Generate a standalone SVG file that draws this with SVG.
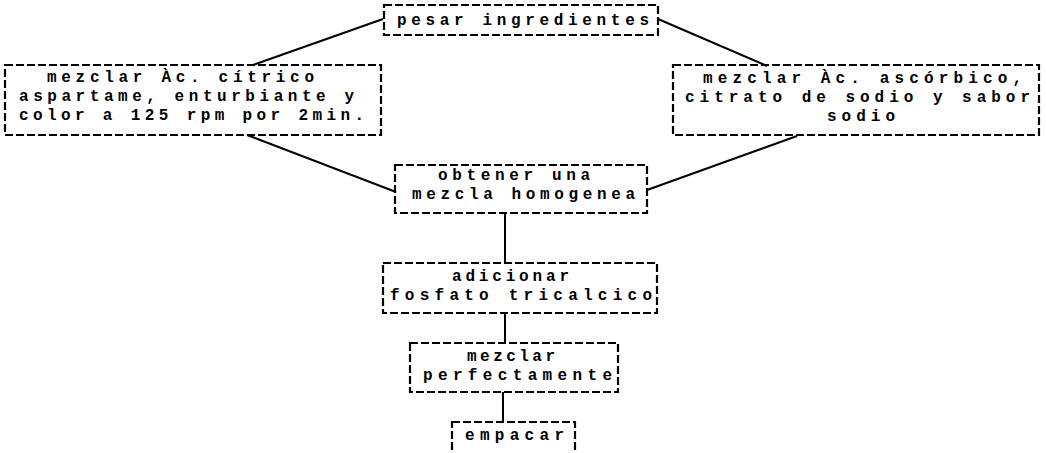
<svg xmlns="http://www.w3.org/2000/svg" width="1046" height="453" viewBox="0 0 1046 453">
<style>
.box{fill:none;stroke:#000;stroke-width:2.2;stroke-dasharray:8 3}
.t{font-family:"Liberation Mono","DejaVu Sans Mono",monospace;font-weight:bold;font-size:16px;fill:#000}
.c{stroke:#000;stroke-width:2;fill:none}
</style>
<rect width="1046" height="453" fill="#fff"/>
<g id="connectors">
<line class="c" x1="383" y1="19" x2="253" y2="65"/>
<line class="c" x1="658" y1="19" x2="767" y2="66"/>
<line class="c" x1="247" y1="135" x2="396" y2="192"/>
<line class="c" x1="797" y1="136" x2="647" y2="190"/>
<line class="c" x1="505" y1="213" x2="505" y2="263"/>
<line class="c" x1="505" y1="313" x2="505" y2="343"/>
<line class="c" x1="503" y1="392" x2="503" y2="422"/>
</g>
<g id="n1">
<rect class="box" x="384" y="5" width="274" height="30"/>
<text class="t" x="397" y="25" textLength="252" lengthAdjust="spacing">pesar ingredientes</text>
</g>
<g id="n2">
<rect class="box" x="5" y="65" width="376" height="70"/>
<text class="t" x="47" y="82" textLength="267" lengthAdjust="spacing">mezclar Àc. cítrico</text>
<text class="t" x="19" y="101" textLength="335" lengthAdjust="spacing">aspartame, enturbiante y</text>
<text class="t" x="19" y="120" textLength="345" lengthAdjust="spacing">color a 125 rpm por 2min.</text>
</g>
<g id="n3">
<rect class="box" x="673" y="65" width="366" height="70"/>
<text class="t" x="703" y="83" textLength="319" lengthAdjust="spacing">mezclar Àc. ascórbico,</text>
<text class="t" x="685" y="102" textLength="345" lengthAdjust="spacing">citrato de sodio y sabor</text>
<text class="t" x="827" y="121" textLength="68" lengthAdjust="spacing">sodio</text>
</g>
<g id="n4">
<rect class="box" x="395" y="165" width="252" height="48"/>
<text class="t" x="438" y="180" textLength="152" lengthAdjust="spacing">obtener una</text>
<text class="t" x="412" y="199" textLength="223" lengthAdjust="spacing">mezcla homogenea</text>
</g>
<g id="n5">
<rect class="box" x="383" y="263" width="274" height="50"/>
<text class="t" x="452" y="281" textLength="117" lengthAdjust="spacing">adicionar</text>
<text class="t" x="390" y="300" textLength="262" lengthAdjust="spacing">fosfato tricalcico</text>
</g>
<g id="n6">
<rect class="box" x="410" y="343" width="208" height="49"/>
<text class="t" x="467" y="361" textLength="88" lengthAdjust="spacing">mezclar</text>
<text class="t" x="423" y="380" textLength="189" lengthAdjust="spacing">perfectamente</text>
</g>
<g id="n7">
<rect class="box" x="452" y="422" width="123" height="34"/>
<text class="t" x="465" y="440" textLength="99" lengthAdjust="spacing">empacar</text>
</g>
</svg>
